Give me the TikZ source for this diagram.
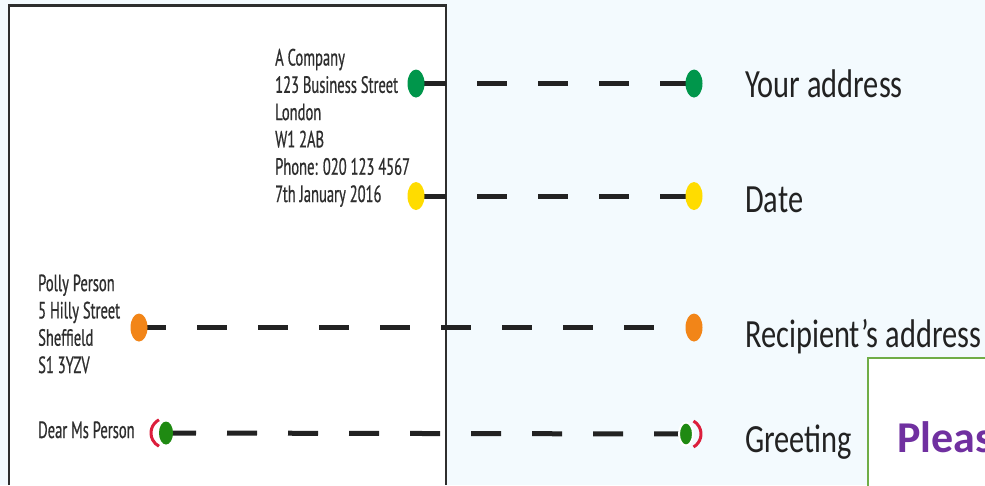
\documentclass[tikz,border=0pt]{standalone}
\usepackage{fontspec}
\usetikzlibrary{shapes.geometric,backgrounds}

\newfontfamily\letterfont[FakeStretch=0.62,FakeBold=0.6]{PT Sans}
\newfontfamily\tagfont[FakeStretch=0.76]{Carlito}
\newfontfamily\boxfont{Carlito}

\definecolor{bgblue}{HTML}{F3FAFE}
\definecolor{lettergrey}{HTML}{2E2E2E}
\definecolor{inkgrey}{HTML}{222222}
\definecolor{addrgreen}{HTML}{00964B}
\definecolor{dategold}{HTML}{FFDC00}
\definecolor{recorange}{HTML}{F28518}
\definecolor{greetgreen}{HTML}{1F8A12}
\definecolor{parenred}{HTML}{DC1E3C}
\definecolor{boxgreen}{HTML}{70AD47}
\definecolor{pleasepurple}{HTML}{7030A0}

\begin{document}
\begin{tikzpicture}[x=1pt,y=1pt,
    blob/.style={ellipse, minimum width=17pt, minimum height=28pt, inner sep=0pt},
    dashline/.style={line width=5pt, inkgrey, dash pattern=on 30pt off 31pt},
    lettertext/.style={font=\letterfont\fontsize{23.5}{27.3}\selectfont, text=lettergrey,
        align=left, inner sep=0pt, anchor=base west},
    tag/.style={font=\tagfont\fontsize{40}{44}\selectfont, text=inkgrey, inner sep=0pt, anchor=base west},
    paren/.style={parenred, line width=3pt}]
    \useasboundingbox (0,0) rectangle (985,-485);
    \clip (0,0) rectangle (985,-485);

    % background and letter page
    \begin{scope}[on background layer]
        \fill[bgblue] (0,0) rectangle (985,-485);
        \fill[white] (9,-5) rectangle (446,-485);
        \draw[lettergrey, line width=2pt] (9,-485) -- (9,-5) -- (446,-5) -- (446,-485);
        \draw[lettergrey, line width=3pt] (8,-5) -- (447,-5);
    \end{scope}

    % letter text (base = last line)
    \node[lettertext] (sender) at (275,-202) {A Company\\123 Business Street\\London\\W1 2AB\\Phone: 020 123 4567\\7th January 2016};
    \node[lettertext] (recipient) at (38,-373) {Polly Person\\5 Hilly Street\\Sheffield\\S1 3YZV};
    \node[lettertext] (dear) at (38,-438) {Dear Ms Person};

    % coloured dots
    \node[blob, fill=addrgreen] (ya) at (416,-83.5) {};
    \node[blob, fill=addrgreen] (yb) at (694,-83.5) {};
    \node[blob, fill=dategold] (da) at (416,-196) {};
    \node[blob, fill=dategold] (db) at (694,-196) {};
    \node[blob, fill=recorange] (ra) at (139,-327.5) {};
    \node[blob, fill=recorange] (rb) at (694,-327.5) {};
    \node[blob, fill=greetgreen, minimum width=14pt, minimum height=23pt] (ga) at (166,-433) {};
    \node[blob, fill=greetgreen, minimum width=14pt, minimum height=23pt, draw=white, line width=2pt] (gb) at (686,-434) {};

    % brackets round the greeting dots
    \draw[paren] (ga.center) ++(118:15pt) arc[start angle=118, end angle=242, radius=15pt];
    \draw[paren] (gb.center) ++(-60:15pt) arc[start angle=-60, end angle=60, radius=15pt];

    % dashed connectors
    \begin{scope}[on background layer]
        \draw[dashline] (ya.center) -- (yb.center);
        \draw[dashline] (da.center) -- (db.center);
        \draw[dashline, dash phase=3pt, shorten >=34pt] (ra.center) -- (rb.center);
        \draw[dashline] (ga.center) -- (gb.center);
    \end{scope}

    % labels
    \node[tag] (lyour) at (745,-97) {Your address};
    \node[tag] (ldate) at (745,-212) {Date};
    \node[tag] (lrecip) at (745,-347) {Recipient’s address};
    \node[tag] (lgreet) at (745,-452) {Greeting};

    % note box
    \draw[boxgreen, line width=1.5pt, fill=white] (868,-358) rectangle (995,-495);
    \node[font=\boxfont\bfseries\fontsize{44}{50}\selectfont, text=pleasepurple,
        inner sep=0pt, anchor=base west] (please) at (897,-452) {Please};
\end{tikzpicture}
\end{document}
